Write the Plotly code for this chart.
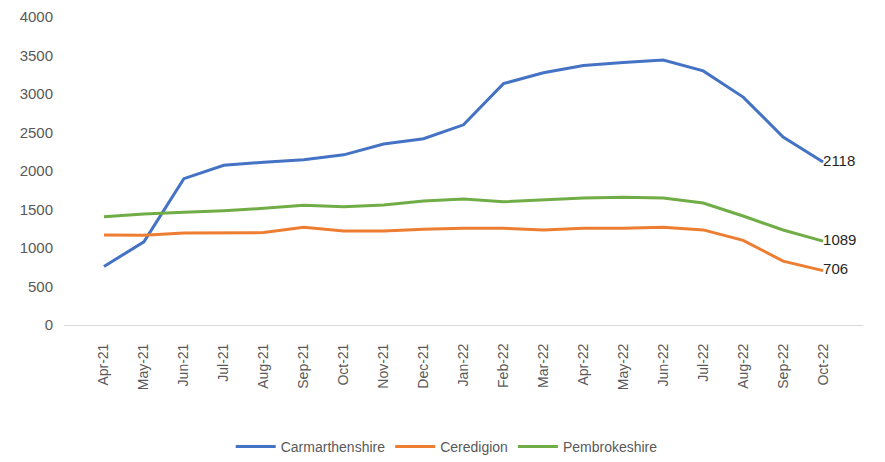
import plotly.graph_objects as go

months = ["Apr-21", "May-21", "Jun-21", "Jul-21", "Aug-21", "Sep-21", "Oct-21",
          "Nov-21", "Dec-21", "Jan-22", "Feb-22", "Mar-22", "Apr-22", "May-22",
          "Jun-22", "Jul-22", "Aug-22", "Sep-22", "Oct-22"]

carmarthenshire = [760, 1080, 1900, 2075, 2115, 2145, 2210, 2350, 2420, 2600,
                   3135, 3275, 3370, 3410, 3440, 3300, 2960, 2440, 2118]
ceredigion = [1170, 1165, 1195, 1195, 1200, 1270, 1220, 1220, 1245, 1255,
              1255, 1235, 1255, 1258, 1270, 1235, 1100, 830, 706]
pembrokeshire = [1405, 1440, 1465, 1485, 1515, 1555, 1535, 1560, 1610, 1635,
                 1600, 1625, 1650, 1660, 1650, 1585, 1415, 1234, 1089]

series = [
    ("Carmarthenshire", carmarthenshire, "#4472C4"),
    ("Ceredigion", ceredigion, "#ED7D31"),
    ("Pembrokeshire", pembrokeshire, "#70AD47"),
]

FONT = "Liberation Sans Narrow, Arial Narrow, Liberation Sans, Arial, sans-serif"

fig = go.Figure()
for name, vals, color in series:
    labels = [""] * (len(vals) - 1) + [str(vals[-1])]
    fig.add_trace(go.Scatter(
        x=months, y=vals, name=name, mode="lines+text",
        line=dict(color=color, width=3),
        text=labels, textposition="middle right",
        textfont=dict(family=FONT, size=15, color="#262626"),
        cliponaxis=False,
    ))

# the page body adds an 8px offset, so the figure is sized to fill the rest of the window
fig.update_layout(
    width=877, height=454,
    margin=dict(l=56, r=22, t=9, b=137, autoexpand=False),
    plot_bgcolor="white", paper_bgcolor="white",
    font=dict(family=FONT, size=13, color="#595959"),
    showlegend=True,
    legend=dict(orientation="h", x=0.479, xanchor="center", y=-0.396, yanchor="middle",
                font=dict(family=FONT, size=14, color="#595959"),
                itemwidth=40, tracegroupgap=0),
    xaxis=dict(type="category", tickangle=-90, showgrid=False, showline=True,
               linecolor="#D9D9D9", linewidth=1, ticks="", automargin=False,
               ticklabelstandoff=12,
               tickfont=dict(family=FONT, size=14, color="#595959")),
    yaxis=dict(range=[0, 4000], dtick=500, showgrid=False, zeroline=False,
               showline=False, ticks="", automargin=False, ticklabelstandoff=10,
               tickfont=dict(family=FONT, size=15, color="#595959")),
)

fig.write_html("out.html")
